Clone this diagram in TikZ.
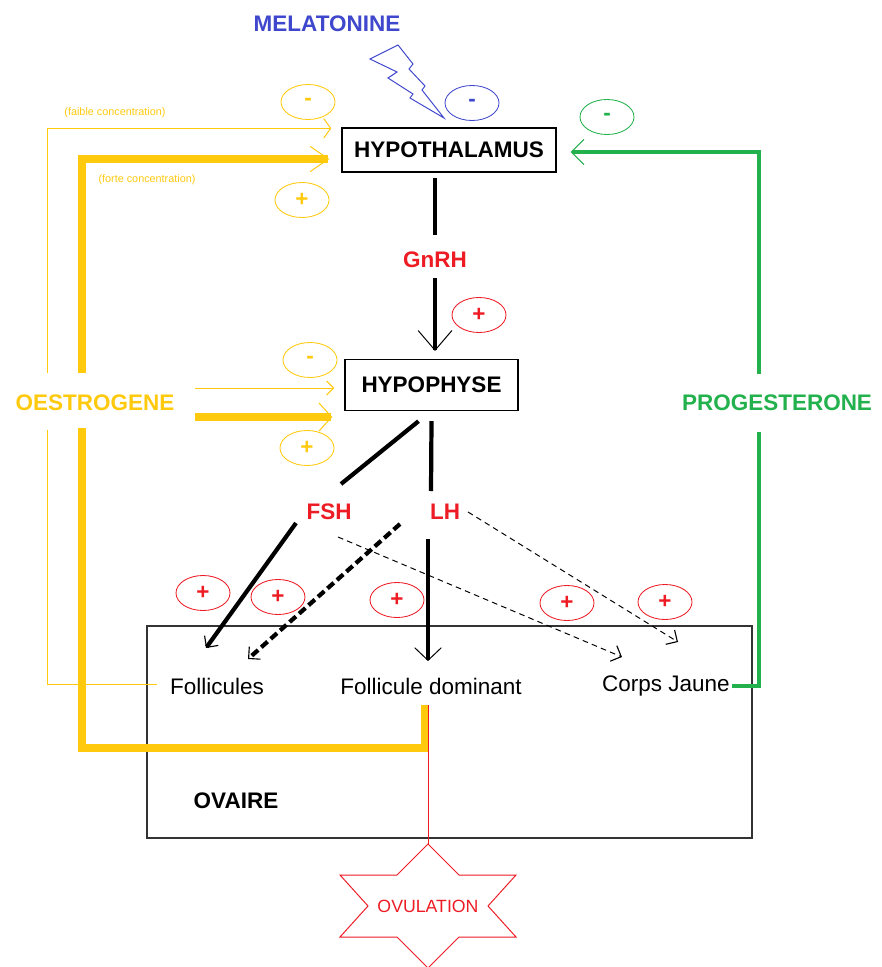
\documentclass[tikz,border=0pt]{standalone}
\usepackage{fontspec}
\setmainfont{Liberation Sans}
\usepackage{tikz}
\usetikzlibrary{positioning}
\usetikzlibrary{shapes.geometric, arrows.meta, calc}
\definecolor{oestro}{RGB}{255,201,14}
\definecolor{proges}{RGB}{34,177,76}
\definecolor{rouge}{RGB}{237,28,36}
\definecolor{mela}{RGB}{63,72,204}
\tikzstyle{boite} = [rectangle, draw=black, line width=1pt, inner sep=0pt, font=\bfseries\fontsize{16}{18}\selectfont]
\tikzstyle{hormone} = [font=\bfseries\fontsize{16}{18}\selectfont]
\tikzstyle{organe} = [font=\fontsize{16}{18}\selectfont]
\tikzstyle{note} = [text=oestro, font=\fontsize{7.7}{9}\selectfont]
\tikzstyle{signe} = [ellipse, minimum width=13.5mm, minimum height=8.75mm, inner sep=0pt, line width=0.6pt, font=\bfseries\fontsize{16}{16}\selectfont]
\tikzstyle{axe} = [black, line width=3pt]
\tikzstyle{axe_pointille} = [black, line width=3pt, dash pattern=on 6pt off 3pt]
\tikzstyle{pointille} = [black, line width=0.7pt, dash pattern=on 4pt off 3pt]
\tikzstyle{faible} = [oestro, line width=0.7pt]
\tikzstyle{forte} = [oestro, line width=5pt]
\tikzstyle{proges_line} = [proges, line width=2.8pt]
\tikzstyle{coin} = [-{Straight Barb[length=6pt,width=12pt,line width=0.8pt]}]

\begin{document}
\begin{tikzpicture}[x=0.25mm, y=-0.25mm]
	\useasboundingbox (0,0) rectangle (881,967);

	\node (ovaire) at (449.5,732) [rectangle, draw=black!80, line width=0.8pt, minimum width=151.25mm, minimum height=53mm] {};
	\node (ovaire_label) at (236,801) [hormone] {OVAIRE};

	\node (melatonine) at (327,24) [hormone, text=mela] {MELATONINE};
	\draw [mela, line width=0.7pt] (370,59) -- (398,45) -- (413,64) -- (409,69) -- (425,86) -- (422,90) -- (444,118) -- (410,98) -- (413,94) -- (388,78) -- (397,72) -- cycle;

	\node (hypothalamus) at (449,150) [boite, minimum width=53.5mm, minimum height=11mm] {HYPOTHALAMUS};
	\node (gnrh) at (435,260) [hormone, text=rouge] {GnRH};
	\node (hypophyse) at (431.5,385) [boite, minimum width=43.25mm, minimum height=12.75mm] {HYPOPHYSE};
	\node (oestrogene) at (95,403) [hormone, text=oestro] {OESTROGENE};
	\node (progesterone) at (777,403) [hormone, text=proges] {PROGESTERONE};
	\node (fsh) at (329,512) [hormone, text=rouge] {FSH};
	\node (lh) at (445,512) [hormone, text=rouge] {LH};

	\node (follicules) at (217,686) [organe] {Follicules};
	\node (dominant) at (431,686) [organe] {Follicule dominant};
	\node (corps_jaune) at (666,686) [organe] {Corps Jaune};
	\node (ovulation) at (428,906) [text=rouge, font=\fontsize{12.6}{14}\selectfont] {OVULATION};

	\node (faible_txt) at (115,113) [note] {(faible concentration)};
	\node (forte_txt) at (147,180) [note] {(forte concentration)};

	% signes
	\node (moins_faible) at (308,102) [signe, draw=oestro, text=oestro] {-};
	\node (moins_mela) at (472,103) [signe, draw=mela, text=mela] {-};
	\node (plus_forte) at (302,200) [signe, draw=oestro, text=oestro] {+};
	\node (moins_proges) at (607,117) [signe, draw=proges, text=proges] {-};
	\node (plus_gnrh) at (479,315) [signe, draw=rouge, text=rouge] {+};
	\node (moins_hypo) at (310,360) [signe, draw=oestro, text=oestro] {-};
	\node (plus_hypo) at (307,448) [signe, draw=oestro, text=oestro] {+};
	\node (plus_fsh) at (203,593) [signe, draw=rouge, text=rouge] {+};
	\node (plus_lh) at (278,597) [signe, draw=rouge, text=rouge] {+};
	\node (plus_dominant) at (397,600) [signe, draw=rouge, text=rouge] {+};
	\node (plus_jaune1) at (567,603) [signe, draw=rouge, text=rouge] {+};
	\node (plus_jaune2) at (665,602) [signe, draw=rouge, text=rouge] {+};

	% axe hypothalamus - hypophyse - ovaire
	\draw [axe] ($(gnrh)+(0,-82)$) -- ($(gnrh)+(0,-25)$);
	\draw [axe, -{Straight Barb[length=14pt,width=24pt,line width=0.7pt]}] ($(gnrh)+(0,18)$) -- ($(gnrh)+(0,91)$);
	\draw [axe] ($(hypophyse.south)+(-13,10)$) -- ($(fsh)+(12,-28)$);
	\draw [axe, coin] ($(fsh)+(-33,11)$) -- ($(follicules)+(-11,-38)$);
	\draw [axe] ($(hypophyse.south)+(0,10)$) -- ($(lh)+(-14,-21)$);
	\draw [axe, -{Straight Barb[length=9pt,width=19pt,line width=0.7pt]}] ($(lh)+(-17,27)$) -- ($(dominant)+(-3,-25)$);
	\draw [axe_pointille, coin] ($(lh)+(-45,12)$) -- ($(follicules)+(31,-27)$);
	\draw [pointille, coin] ($(fsh)+(9,25)$) -- ($(corps_jaune)+(-44,-29)$);
	\draw [pointille, coin] ($(lh)+(23,0)$) -- ($(corps_jaune)+(12,-44)$);

	% oestrogene
	\draw [faible, -{Straight Barb[length=5pt,width=14pt,line width=0.7pt]}] ($(oestrogene)+(-48,-30)$) |- ($(hypothalamus.north west)+(-10,1)$);
	\draw [forte, -{Straight Barb[length=13pt,width=18pt,line width=0.7pt]}] ($(oestrogene)+(-13,-30)$) |- ($(hypothalamus.west)+(-12,9)$);
	\draw [faible, -{Straight Barb[length=5pt,width=10pt,line width=0.7pt]}] ($(oestrogene)+(100,-15)$) -- ($(hypophyse.west)+(-10,3)$);
	\draw [forte, -{Straight Barb[length=9pt,width=20pt,line width=0.7pt]}] ($(oestrogene)+(100,14)$) -- ($(hypophyse.west)+(-12,32)$);
	\draw [faible] ($(oestrogene)+(-48,27)$) |- ($(follicules)+(-60,-2)$);
	\draw [forte] ($(dominant)+(-6,19)$) |- ($(oestrogene)+(-13,345)$) -- ($(oestrogene)+(-13,25)$);

	% progesterone
	\draw [proges_line] ($(corps_jaune)+(66,0)$) -| ($(progesterone)+(-18,29)$);
	\draw [proges_line, -{Straight Barb[length=9pt,width=18pt,line width=0.7pt]}] ($(progesterone)+(-18,-29)$) |- ($(hypothalamus.east)+(14,2)$);

	% ovulation
	\draw [rouge, line width=0.7pt] ($(dominant)+(-3,19)$) -- ($(ovulation)+(0,-62)$);
	\draw [rouge, line width=0.7pt] ($(ovulation)+(0,-62)$) -- ++(31,31) -- ++(57,0) -- ++(-28,31) -- ++(28,31) -- ++(-57,0) -- ++(-31,31) -- ++(-31,-31) -- ++(-57,0) -- ++(28,-31) -- ++(-28,-31) -- ++(57,0) -- cycle;

\end{tikzpicture}
\end{document}
